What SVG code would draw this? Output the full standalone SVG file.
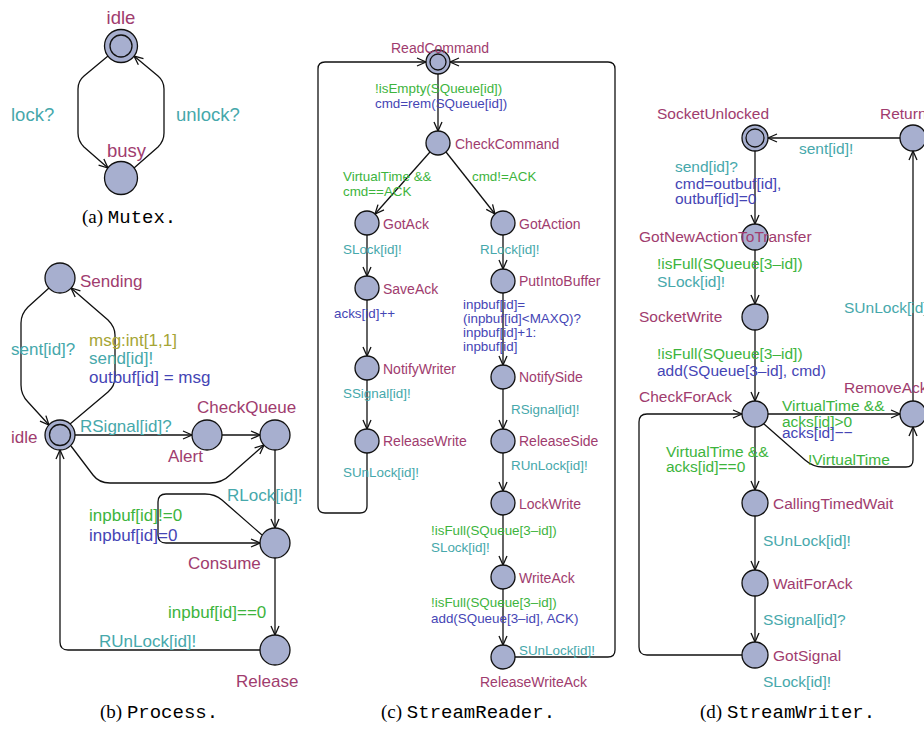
<svg xmlns="http://www.w3.org/2000/svg" width="924" height="729" viewBox="0 0 924 729">
<defs>
<style>
text{font-family:"Liberation Sans",Arial,sans-serif}
.n{fill:#a7afcf;stroke:#111;stroke-width:1.3}
.i{fill:none;stroke:#111;stroke-width:1.3}
.e{fill:none;stroke:#111;stroke-width:1.3;marker-end:url(#a)}
.nm{fill:#a03c6e}.tl{fill:#46a8ab}.gr{fill:#3db43d}.bl{fill:#4545b5}.ol{fill:#a5a535}
.m{font-size:18.5px}.p{font-size:17px}.r{font-size:13.4px}.rn{font-size:14px}.w{font-size:15.5px}
.cap{font-size:19px;fill:#000}
.sf{font-family:"Liberation Serif","Times New Roman",serif}
.mo{font-family:"Liberation Mono","Courier New",monospace}
</style>
<marker id="a" viewBox="-10 -5 11 10" refX="0" refY="0" markerWidth="11" markerHeight="10" orient="auto" markerUnits="userSpaceOnUse">
<path d="M-9,-4 L0,0 L-9,4" fill="none" stroke="#111" stroke-width="1.3"/>
</marker>
</defs>

<!-- ===== connectors ===== -->
<g id="connectors">
<!-- Mutex -->
<path class="e" d="M108,56 L84,76 Q78,81 78,89 L78,133 Q78,141 84,147 L108,168"/>
<path class="e" d="M134,168 L158,147 Q164,141 164,133 L164,89 Q164,81 158,76 L134,56"/>
<text class="m tl" x="11" y="121">lock?</text>
<text class="m tl" x="176" y="121">unlock?</text>

<!-- Process -->
<path class="e" d="M70,424 L108,392 Q115,386 115,377 L115,335 Q115,327 108,320 L71,288"/>
<path class="e" d="M49,288 L28,307 Q21,314 21,323 L21,385 Q21,395 28,402 L49,425"/>
<path class="e" d="M75,435 L192,435"/>
<path class="e" d="M222,435 L260,435"/>
<path class="e" d="M71,446 L93,475 Q99,483 110,483 L210,483 Q222,483 230,475 L264,445"/>
<path class="e" d="M275,450 L275,528"/>
<path class="e" d="M262,535 L222,500 Q215,494 205,494 L166,494 Q158,494 158,502 L158,535 Q158,543 166,543 L260,543"/>
<path class="e" d="M275,558 L275,635"/>
<path class="e" d="M260,650 L68,650 Q60,650 60,642 L60,450"/>
<text class="p ol" x="89" y="346">msg:int[1,1]</text>
<text class="p tl" x="89" y="364">send[id]!</text>
<text class="p bl" x="89" y="383">outbuf[id] = msg</text>
<text class="p tl" x="11" y="355">sent[id]?</text>
<text class="p tl" x="80" y="432">RSignal[id]?</text>
<text class="p tl" x="227" y="501">RLock[id]!</text>
<text class="p gr" x="89" y="521">inpbuf[id]!=0</text>
<text class="p bl" x="89" y="541">inpbuf[id]=0</text>
<text class="p gr" x="168" y="618">inpbuf[id]==0</text>
<text class="p tl" x="99" y="647">RUnLock[id]!</text>

<!-- StreamReader -->
<path class="e" d="M438,74 L438,131"/>
<path class="e" d="M430,152 L375,214"/>
<path class="e" d="M446,152 L495,214"/>
<path class="e" d="M367,235 L367,276"/>
<path class="e" d="M367,300 L367,356"/>
<path class="e" d="M367,380 L367,429"/>
<path class="e" d="M367,453 L367,506 Q367,513 360,513 L325,513 Q318,513 318,506 L318,69 Q318,62 325,62 L426,62"/>
<path class="e" d="M503,235 L503,269"/>
<path class="e" d="M503,293 L503,365"/>
<path class="e" d="M503,389 L503,429"/>
<path class="e" d="M503,453 L503,491"/>
<path class="e" d="M503,515 L503,565"/>
<path class="e" d="M503,589 L503,645"/>
<path class="e" d="M515,657 L608,657 Q615,657 615,650 L615,69 Q615,62 608,62 L450,62"/>
<text class="r gr" x="375" y="93">!isEmpty(SQueue[id])</text>
<text class="r bl" x="375" y="108">cmd=rem(SQueue[id])</text>
<text class="r gr" x="343" y="181">VirtualTime &amp;&amp;</text>
<text class="r gr" x="343" y="196">cmd==ACK</text>
<text class="r gr" x="472" y="181">cmd!=ACK</text>
<text class="r tl" x="343" y="254">SLock[id]!</text>
<text class="r tl" x="480" y="254">RLock[id]!</text>
<text class="r bl" x="334" y="318">acks[id]++</text>
<text class="r bl" x="463" y="309">inpbuf[id]=</text>
<text class="r bl" x="463" y="323">(inpbuf[id]&lt;MAXQ)?</text>
<text class="r bl" x="463" y="337">inpbuf[id]+1:</text>
<text class="r bl" x="463" y="351">inpbuf[id]</text>
<text class="r tl" x="343" y="398">SSignal[id]!</text>
<text class="r tl" x="511" y="414">RSignal[id]!</text>
<text class="r tl" x="343" y="477">SUnLock[id]!</text>
<text class="r tl" x="511" y="470">RUnLock[id]!</text>
<text class="r gr" x="431" y="535">!isFull(SQueue[3–id])</text>
<text class="r tl" x="431" y="552">SLock[id]!</text>
<text class="r gr" x="431" y="607">!isFull(SQueue[3–id])</text>
<text class="r bl" x="431" y="623">add(SQueue[3–id], ACK)</text>
<text class="r tl" x="519" y="655">SUnLock[id]!</text>

<!-- StreamWriter -->
<path class="e" d="M900,138 L768,138"/>
<path class="e" d="M755,151 L755,224"/>
<path class="e" d="M755,250 L755,304"/>
<path class="e" d="M755,330 L755,401"/>
<path class="e" d="M768,414 L900,414"/>
<path class="e" d="M764,424 L805,460 Q813,467 823,467 L906,467 Q913,467 913,460 L913,427"/>
<path class="e" d="M755,427 L755,490"/>
<path class="e" d="M755,516 L755,570"/>
<path class="e" d="M755,596 L755,642"/>
<path class="e" d="M742,655 L647,655 Q639,655 639,647 L639,422 Q639,414 647,414 L742,414"/>
<path class="e" d="M913,401 L913,151"/>
<text class="w tl" x="799" y="154">sent[id]!</text>
<text class="w tl" x="675" y="172">send[id]?</text>
<text class="w bl" x="675" y="189">cmd=outbuf[id],</text>
<text class="w bl" x="675" y="204">outbuf[id]=0</text>
<text class="w gr" x="657" y="269">!isFull(SQueue[3–id])</text>
<text class="w tl" x="657" y="287">SLock[id]!</text>
<text class="w tl" x="844" y="313">SUnLock[id]!</text>
<text class="w gr" x="657" y="359">!isFull(SQueue[3–id])</text>
<text class="w bl" x="657" y="376">add(SQueue[3–id], cmd)</text>
<text class="w gr" x="782" y="411">VirtualTime &amp;&amp;</text>
<text class="w gr" x="782" y="427">acks[id]&gt;0</text>
<text class="w bl" x="782" y="438">acks[id]−−</text>
<text class="w gr" x="808" y="465">!VirtualTime</text>
<text class="w gr" x="666" y="457">VirtualTime &amp;&amp;</text>
<text class="w gr" x="666" y="472">acks[id]==0</text>
<text class="w tl" x="763" y="546">SUnLock[id]!</text>
<text class="w tl" x="763" y="625">SSignal[id]?</text>
</g>

<!-- ===== Mutex nodes ===== -->
<g id="mutex-idle"><circle class="n" cx="121" cy="46" r="16.5"/><circle class="i" cx="121" cy="46" r="11"/><text class="m nm" x="121" y="24" text-anchor="middle">idle</text></g>
<g id="mutex-busy"><circle class="n" cx="121" cy="178" r="16.5"/><text class="m nm" x="107" y="157">busy</text></g>

<!-- ===== Process nodes ===== -->
<g id="proc-sending"><circle class="n" cx="60" cy="278" r="15"/><text class="p nm" x="80" y="287">Sending</text></g>
<g id="proc-idle"><circle class="n" cx="60" cy="435" r="15"/><circle class="i" cx="60" cy="435" r="10.5"/><text class="p nm" x="11" y="443">idle</text></g>
<g id="proc-alert"><circle class="n" cx="207" cy="435" r="15"/><text class="p nm" x="168" y="462">Alert</text></g>
<g id="proc-checkqueue"><circle class="n" cx="275" cy="435" r="15"/><text class="p nm" x="197" y="413">CheckQueue</text></g>
<g id="proc-consume"><circle class="n" cx="275" cy="543" r="15"/><text class="p nm" x="188" y="569">Consume</text></g>
<g id="proc-release"><circle class="n" cx="275" cy="650" r="15"/><text class="p nm" x="236" y="687">Release</text></g>

<!-- ===== StreamReader nodes ===== -->
<g id="sr-readcommand"><circle class="n" cx="438" cy="62" r="12"/><circle class="i" cx="438" cy="62" r="8"/><text class="rn nm" x="391" y="53">ReadCommand</text></g>
<g id="sr-checkcommand"><circle class="n" cx="438" cy="143" r="12"/><text class="rn nm" x="455" y="149">CheckCommand</text></g>
<g id="sr-gotack"><circle class="n" cx="367" cy="223" r="12"/><text class="rn nm" x="383" y="229">GotAck</text></g>
<g id="sr-gotaction"><circle class="n" cx="503" cy="223" r="12"/><text class="rn nm" x="519" y="229">GotAction</text></g>
<g id="sr-saveack"><circle class="n" cx="367" cy="288" r="12"/><text class="rn nm" x="383" y="294">SaveAck</text></g>
<g id="sr-putintobuffer"><circle class="n" cx="503" cy="281" r="12"/><text class="rn nm" x="519" y="286">PutIntoBuffer</text></g>
<g id="sr-notifywriter"><circle class="n" cx="367" cy="368" r="12"/><text class="rn nm" x="383" y="374">NotifyWriter</text></g>
<g id="sr-notifyside"><circle class="n" cx="503" cy="377" r="12"/><text class="rn nm" x="519" y="382">NotifySide</text></g>
<g id="sr-releasewrite"><circle class="n" cx="367" cy="441" r="12"/><text class="rn nm" x="383" y="446">ReleaseWrite</text></g>
<g id="sr-releaseside"><circle class="n" cx="503" cy="441" r="12"/><text class="rn nm" x="519" y="446">ReleaseSide</text></g>
<g id="sr-lockwrite"><circle class="n" cx="503" cy="503" r="12"/><text class="rn nm" x="519" y="509">LockWrite</text></g>
<g id="sr-writeack"><circle class="n" cx="503" cy="577" r="12"/><text class="rn nm" x="519" y="583">WriteAck</text></g>
<g id="sr-releasewriteack"><circle class="n" cx="503" cy="657" r="12"/><text class="rn nm" x="480" y="687">ReleaseWriteAck</text></g>

<!-- ===== StreamWriter nodes ===== -->
<g id="sw-socketunlocked"><circle class="n" cx="755" cy="138" r="13"/><circle class="i" cx="755" cy="138" r="9"/><text class="w nm" x="657" y="119">SocketUnlocked</text></g>
<g id="sw-return"><circle class="n" cx="913" cy="138" r="13"/><text class="w nm" x="880" y="119">Return</text></g>
<g id="sw-gotnewaction"><circle class="n" cx="755" cy="237" r="13"/><text class="w nm" x="639" y="242">GotNewActionToTransfer</text></g>
<g id="sw-socketwrite"><circle class="n" cx="755" cy="317" r="13"/><text class="w nm" x="639" y="322">SocketWrite</text></g>
<g id="sw-checkforack"><circle class="n" cx="755" cy="414" r="13"/><text class="w nm" x="639" y="402">CheckForAck</text></g>
<g id="sw-removeack"><circle class="n" cx="913" cy="414" r="13"/><text class="w nm" x="844" y="393">RemoveAck</text></g>
<g id="sw-callingtimedwait"><circle class="n" cx="755" cy="503" r="13"/><text class="w nm" x="773" y="509">CallingTimedWait</text></g>
<g id="sw-waitforack"><circle class="n" cx="755" cy="583" r="13"/><text class="w nm" x="773" y="589">WaitForAck</text></g>
<g id="sw-gotsignal"><circle class="n" cx="755" cy="655" r="13"/><text class="w nm" x="773" y="661">GotSignal</text><text class="w tl" x="763" y="687">SLock[id]!</text></g>

<!-- ===== captions ===== -->
<g id="captions">
<text class="cap" x="82" y="223"><tspan class="sf">(a) </tspan><tspan class="mo">Mutex.</tspan></text>
<text class="cap" x="100" y="718"><tspan class="sf">(b) </tspan><tspan class="mo">Process.</tspan></text>
<text class="cap" x="381" y="718"><tspan class="sf">(c) </tspan><tspan class="mo">StreamReader.</tspan></text>
<text class="cap" x="700" y="718"><tspan class="sf">(d) </tspan><tspan class="mo">StreamWriter.</tspan></text>
</g>
</svg>
